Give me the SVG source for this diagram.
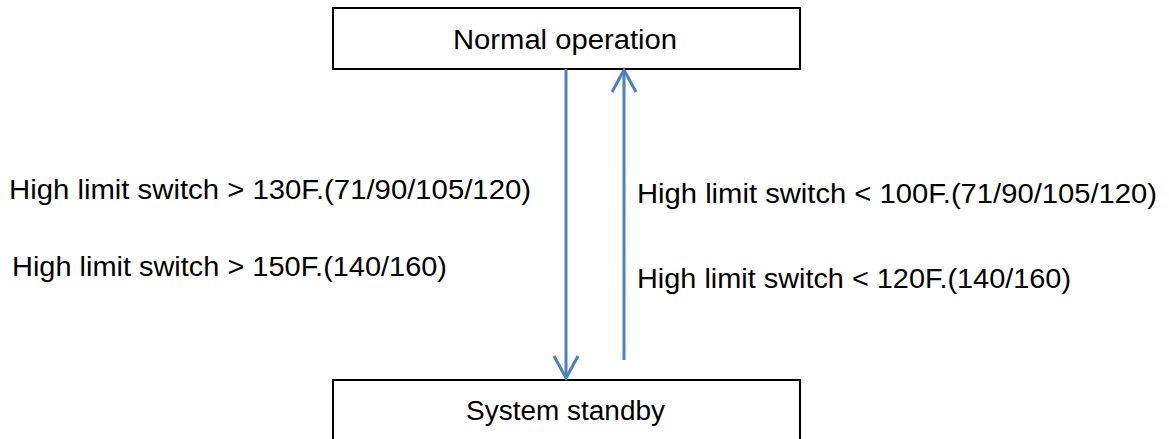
<svg xmlns="http://www.w3.org/2000/svg" width="1169" height="439" viewBox="0 0 1169 439">
  <style>
    .box { fill: #ffffff; stroke: #000000; stroke-width: 2; }
    .node-text { font-family: "Liberation Sans", Arial, sans-serif; font-size: 27px; fill: #000000; text-anchor: middle; }
    .label { font-family: "Liberation Sans", Arial, sans-serif; font-size: 27px; fill: #000000; }
    .flow { fill: none; stroke: #4F81BD; stroke-width: 3; }
    .head { fill: none; stroke: #4F81BD; stroke-width: 3; stroke-linejoin: miter; }
  </style>
  <rect width="1169" height="439" fill="#ffffff"/>

  <g id="node-normal">
    <rect class="box" x="333" y="8" width="467" height="61"/>
    <text class="node-text" x="565" y="49" textLength="224" lengthAdjust="spacingAndGlyphs">Normal operation</text>
  </g>

  <g id="node-standby">
    <rect class="box" x="333" y="380" width="467" height="80"/>
    <text class="node-text" x="565.5" y="420" textLength="199" lengthAdjust="spacingAndGlyphs">System standby</text>
  </g>

  <g id="connectors">
    <!-- normal -> standby -->
    <line class="flow" x1="566" y1="69" x2="566" y2="377"/>
    <polyline class="head" points="554,356 566,378 578,356"/>
    <!-- standby -> normal -->
    <line class="flow" x1="624" y1="360" x2="624" y2="71"/>
    <polyline class="head" points="612,92 624,70 636,92"/>
  </g>

  <g id="labels">
    <text class="label" x="9" y="199" textLength="522" lengthAdjust="spacingAndGlyphs">High limit switch &gt; 130F.(71/90/105/120)</text>
    <text class="label" x="12" y="276" textLength="435" lengthAdjust="spacingAndGlyphs">High limit switch &gt; 150F.(140/160)</text>
    <text class="label" x="637" y="203" textLength="520" lengthAdjust="spacingAndGlyphs">High limit switch &lt; 100F.(71/90/105/120)</text>
    <text class="label" x="637" y="288" textLength="434" lengthAdjust="spacingAndGlyphs">High limit switch &lt; 120F.(140/160)</text>
  </g>
</svg>
